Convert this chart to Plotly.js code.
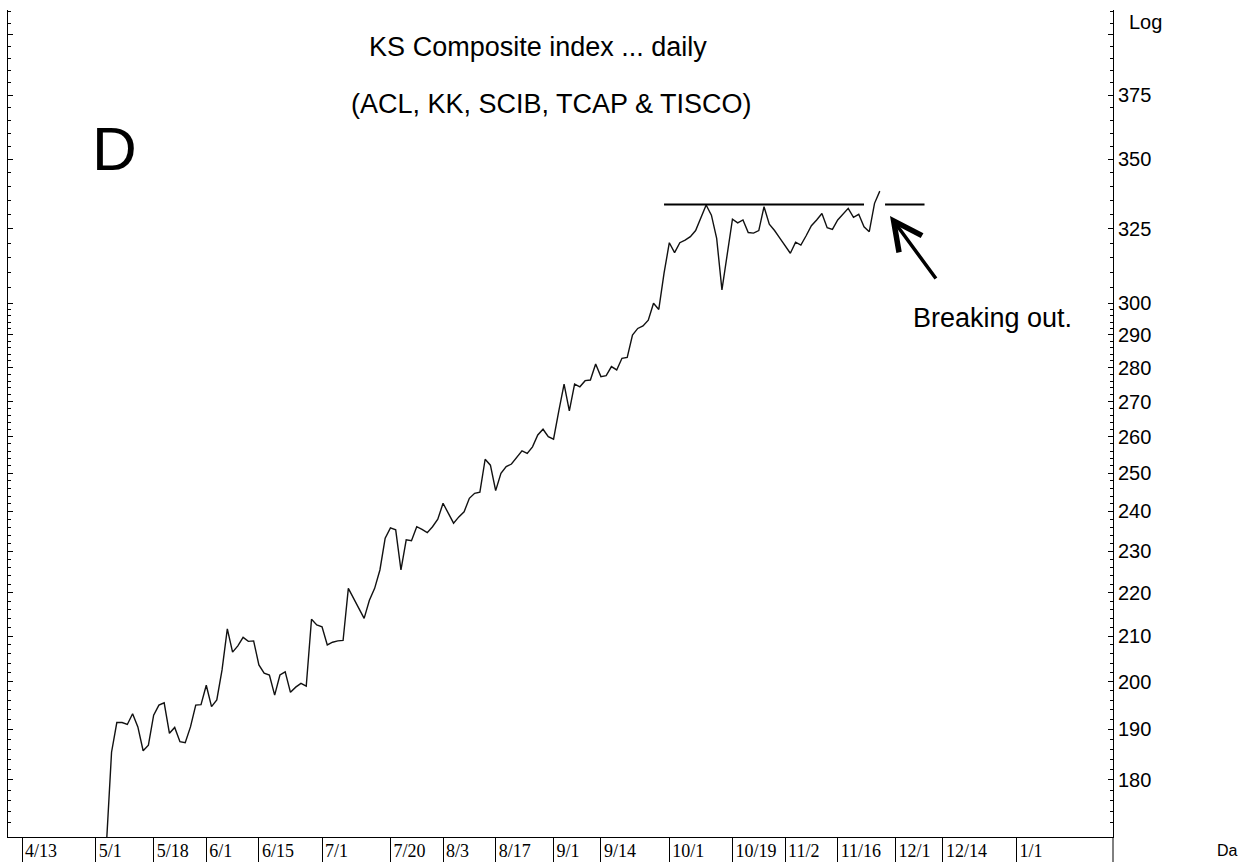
<!DOCTYPE html>
<html>
<head>
<meta charset="utf-8">
<script src="https://cdn.plot.ly/plotly-3.0.1.min.js"></script>
<style>
html,body{margin:0;padding:0;background:#fff;}
#chart{width:1244px;height:862px;}
</style>
</head>
<body>
<div id="chart"></div>
<script>
// trading-day index (weekdays, 4/13 = day 0) of the first close
const firstDay = 16;
// daily closes of the composite index
const closes = [
  167.5, 185.4, 191.4, 191.4, 191.0, 193.2, 190.5, 185.7, 186.8, 192.9,
  195.0, 195.5, 189.2, 190.4, 187.5, 187.3, 190.5, 195.0, 195.1, 199.2,
  194.7, 196.1, 202.5, 211.6, 206.4, 207.8, 209.7, 208.8, 208.9, 203.6,
  201.8, 201.4, 197.1, 201.4, 202.1, 197.7, 198.8, 199.6, 199.0, 213.8,
  212.5, 212.1, 208.0, 208.6, 208.9, 209.0, 221.0, 218.7, 216.4, 214.0,
  218.2, 221.0, 225.4, 233.2, 235.8, 235.3, 225.4, 232.8, 232.6, 236.1,
  235.4, 234.6, 236.1, 238.0, 242.1, 239.5, 237.0, 238.6, 239.9, 243.4,
  244.7, 245.0, 253.8, 252.2, 245.4, 250.0, 251.8, 252.5, 254.3, 256.1,
  255.4, 257.2, 260.5, 262.1, 260.0, 259.3, 267.3, 275.1, 267.3, 275.1,
  274.3, 276.1, 276.3, 281.1, 277.3, 277.6, 280.3, 279.3, 282.8, 283.1,
  289.9, 292.0, 292.8, 294.6, 300.0, 298.0, 309.8, 320.1, 316.7, 320.1,
  321.0, 322.2, 324.3, 329.1, 333.3, 329.7, 321.6, 304.3, 315.9, 328.3,
  327.0, 328.0, 323.6, 323.4, 324.3, 332.7, 326.5, 324.3, 321.7, 319.0,
  316.5, 320.3, 319.3, 322.5, 326.0, 328.0, 330.3, 325.3, 324.7, 328.0,
  330.0, 332.1, 328.9, 330.0, 325.6, 323.9, 333.9, 338.3
];

// x axis date labels and their trading-day index
const tickDays   = [0, 14, 25, 35, 45, 57, 70, 80, 90, 101, 110, 123, 135, 145, 155, 166, 175, 189];
const tickLabels = ['4/13','5/1','5/18','6/1','6/15','7/1','7/20','8/3','8/17','9/1','9/14','10/1','10/19','11/2','11/16','12/1','12/14','1/1'];

// log price axis labels
const priceTicks      = [180, 190, 200, 210, 220, 230, 240, 250, 260, 270, 280, 290, 300, 325, 350, 375, 400];
const priceTickLabels = ['180','190','200','210','220','230','240','250','260','270','280','290','300','325','350','375',''];

// resistance line (drawn in two pieces) and its trading-day spans
const resistanceLevel = 333.5;
const resistanceSpanA = [122, 160];
const resistanceSpanB = [164, 171.5];

// minor ticks: every 2 points below 300, every 5 points above
const minorTicks = [];
for (let v = 170; v < 300; v += 2) if (v % 10 !== 0) minorTicks.push(v);
for (let v = 305; v <= 410; v += 5) if (v % 25 !== 0) minorTicks.push(v);

const traces = [
  {
    type: 'scatter', mode: 'lines',
    x0: firstDay, dx: 1, y: closes,
    line: {color: '#111', width: 1.4},
    hoverinfo: 'skip'
  },
  {
    type: 'scatter', mode: 'lines',
    x: resistanceSpanA, y: [resistanceLevel, resistanceLevel],
    line: {color: '#000', width: 2}, hoverinfo: 'skip'
  },
  {
    type: 'scatter', mode: 'lines',
    x: resistanceSpanB, y: [resistanceLevel, resistanceLevel],
    line: {color: '#000', width: 2}, hoverinfo: 'skip'
  }
];

const layout = {
  width: 1244, height: 862,
  margin: {l: 8, r: 131, t: 10, b: 25, pad: 0},
  paper_bgcolor: '#fff', plot_bgcolor: '#fff',
  showlegend: false,
  font: {family: '"Liberation Sans", Arial, sans-serif', color: '#000'},
  title: {
    text: 'KS Composite index ... daily',
    font: {size: 27, color: '#000'},
    xref: 'paper', x: 0.4796, xanchor: 'center',
    yref: 'container', y: 0.9455, yanchor: 'middle'
  },
  xaxis: {
    range: [-2.68, 207.32],
    showgrid: false, zeroline: false,
    showline: true, linecolor: '#000', linewidth: 1,
    ticks: 'outside', ticklen: 25, tickcolor: '#000', tickwidth: 1,
    tickmode: 'array', tickvals: tickDays, ticktext: tickLabels,
    tickangle: 0, automargin: false,
    ticklabelposition: 'outside right', ticklabelshift: 2, ticklabelstandoff: -3,
    tickfont: {family: '"Liberation Serif", "Times New Roman", serif', size: 18, color: '#000'},
    fixedrange: true
  },
  yaxis: {
    type: 'log', range: [2.22866, 2.61361],
    side: 'right',
    showgrid: false, zeroline: false,
    showline: true, linecolor: '#000', linewidth: 1,
    mirror: 'ticks',
    ticks: 'inside', ticklen: 5, tickcolor: '#000', tickwidth: 1,
    tickmode: 'array', tickvals: priceTicks, ticktext: priceTickLabels,
    tickfont: {size: 20, color: '#000'},
    minor: {tickmode: 'array', tickvals: minorTicks, ticks: 'inside', ticklen: 3, tickcolor: '#000', tickwidth: 1, showgrid: false},
    automargin: false,
    fixedrange: true
  },
  annotations: [
    {text: '(ACL, KK, SCIB, TCAP &amp; TISCO)', xref: 'paper', yref: 'paper', x: 0.4923, y: 0.8863,
     xanchor: 'center', yanchor: 'middle', showarrow: false, font: {size: 27, color: '#000'}},
    {text: 'D', xref: 'paper', yref: 'paper', x: 0.0968, y: 0.833,
     xanchor: 'center', yanchor: 'middle', showarrow: false, font: {size: 62, color: '#000'}},
    {text: 'Breaking out.', xref: 'paper', yref: 'paper', x: 0.8172, y: 0.6276,
     xanchor: 'left', yanchor: 'middle', showarrow: false, font: {size: 27, color: '#000'}},
    {text: 'Log', xref: 'paper', yref: 'paper', x: 1.0125, y: 0.9855,
     xanchor: 'left', yanchor: 'middle', showarrow: false, font: {size: 20, color: '#000'}},
    {text: 'Da', xref: 'paper', yref: 'paper', x: 1.0923, y: -0.0169,
     xanchor: 'left', yanchor: 'middle', showarrow: false, font: {size: 16, color: '#000'}},
    {text: '', xref: 'paper', yref: 'paper', x: 0.7982, y: 0.7509,
     showarrow: true, ax: 47, ay: 64, arrowhead: 5, arrowsize: 1.6, arrowwidth: 3.5, arrowcolor: '#000', standoff: 0}
  ],
  shapes: [
    {type: 'line', xref: 'paper', yref: 'paper', x0: 1, x1: 1, y0: 0, y1: -25 / 827,
     line: {color: '#000', width: 1}}
  ]
};

Plotly.newPlot('chart', traces, layout, {displayModeBar: false, staticPlot: true});
</script>
</body>
</html>
